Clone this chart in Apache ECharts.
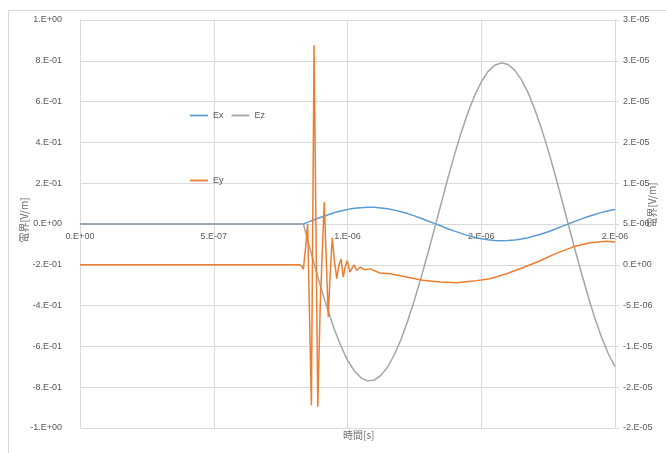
<!DOCTYPE html>
<html>
<head>
<meta charset="utf-8">
<script src="https://cdn.jsdelivr.net/npm/echarts@6/dist/echarts.min.js"></script>
<style>html,body{margin:0;padding:0;background:#fff;}#c{width:666px;height:453px;}</style>
</head>
<body>
<div id="c"></div>
<script>
// time axis for Ex / Ez [s]
const tField = [0, 0.835e-6, 0.850e-6, 0.875e-6, 0.900e-6, 0.925e-6, 0.950e-6, 0.975e-6, 1.000e-6, 1.025e-6, 1.050e-6, 1.075e-6, 1.100e-6, 1.125e-6, 1.150e-6, 1.175e-6, 1.200e-6, 1.225e-6, 1.250e-6, 1.275e-6, 1.300e-6, 1.325e-6, 1.350e-6, 1.375e-6, 1.400e-6, 1.425e-6, 1.450e-6, 1.475e-6, 1.500e-6, 1.525e-6, 1.550e-6, 1.575e-6, 1.600e-6, 1.625e-6, 1.650e-6, 1.675e-6, 1.700e-6, 1.725e-6, 1.750e-6, 1.775e-6, 1.800e-6, 1.825e-6, 1.850e-6, 1.875e-6, 1.900e-6, 1.925e-6, 1.950e-6, 1.975e-6, 2.000e-6];
// Ex [V/m] (left axis)
const exValues = [0, 0, 0.008, 0.021, 0.033, 0.044, 0.055, 0.064, 0.071, 0.077, 0.080, 0.082, 0.082, 0.079, 0.075, 0.068, 0.060, 0.051, 0.040, 0.028, 0.015, 0.003, -0.010, -0.023, -0.035, -0.046, -0.057, -0.065, -0.072, -0.077, -0.081, -0.082, -0.081, -0.078, -0.073, -0.067, -0.058, -0.049, -0.038, -0.026, -0.013, 0.000, 0.013, 0.025, 0.037, 0.047, 0.057, 0.065, 0.071];
// Ez [V/m] (left axis)
const ezValues = [0, 0, -0.073, -0.193, -0.309, -0.416, -0.513, -0.597, -0.667, -0.719, -0.754, -0.769, -0.765, -0.742, -0.701, -0.641, -0.566, -0.476, -0.374, -0.263, -0.146, -0.024, 0.100, 0.223, 0.340, 0.448, 0.545, 0.629, 0.696, 0.747, 0.778, 0.790, 0.782, 0.754, 0.708, 0.644, 0.563, 0.468, 0.362, 0.246, 0.125, 0.000, -0.123, -0.243, -0.357, -0.463, -0.556, -0.636, -0.699];
// Ey (right axis) time [s] and value [V/m]
const eyTime = [0, 0.820e-6, 0.828e-6, 0.835e-6, 0.843e-6, 0.851e-6, 0.865e-6, 0.875e-6, 0.889e-6, 0.898e-6, 0.913e-6, 0.920e-6, 0.928e-6, 0.935e-6, 0.943e-6, 0.951e-6, 0.960e-6, 0.968e-6, 0.976e-6, 0.984e-6, 0.991e-6, 0.999e-6, 1.009e-6, 1.024e-6, 1.034e-6, 1.047e-6, 1.065e-6, 1.084e-6, 1.121e-6, 1.160e-6, 1.221e-6, 1.280e-6, 1.346e-6, 1.408e-6, 1.470e-6, 1.533e-6, 1.595e-6, 1.660e-6, 1.720e-6, 1.780e-6, 1.844e-6, 1.907e-6, 1.969e-6, 2.000e-6];
const eyValues = [0, 0, -0.0125e-5, -0.055e-5, 0.20e-5, 0.50e-5, -1.72e-5, 2.69e-5, -1.74e-5, -0.50e-5, 0.77e-5, 0.13e-5, -0.64e-5, -0.13e-5, 0.33e-5, 0.05e-5, -0.17e-5, 0, 0.07e-5, -0.15e-5, -0.03e-5, 0.05e-5, -0.09e-5, 0, -0.07e-5, -0.03e-5, -0.06e-5, -0.05e-5, -0.10e-5, -0.11e-5, -0.15e-5, -0.19e-5, -0.21e-5, -0.22e-5, -0.20e-5, -0.17e-5, -0.11e-5, -0.03e-5, 0.05e-5, 0.14e-5, 0.22e-5, 0.27e-5, 0.29e-5, 0.28e-5];

const yTitle = '電界[V/m]';
const xTitle = '時間[s]';

function sciFmt(v) {
  if (Math.abs(v) < 1e-30) return '0.E+00';
  const s = v < 0 ? -1 : 1;
  const a = Math.abs(v);
  let e = Math.floor(Math.log10(a) + 1e-9);
  let m = Math.round(a / Math.pow(10, e) * (1 + 1e-9));
  if (m >= 10) { m = 1; e += 1; }
  const es = (e < 0 ? '-' : '+') + String(Math.abs(e)).padStart(2, '0');
  return (s < 0 ? '-' : '') + m + '.E' + es;
}

const gridColor = '#d9d9d9';
const labelStyle = { color: '#595959', fontSize: 9, fontFamily: 'Liberation Sans' };
const titleStyle = { color: '#6f6f6f', fontSize: 10, fontFamily: 'Noto Sans CJK JP' };
const lineIcon = 'path://M0,0H20V2H0Z';

const chart = echarts.init(document.getElementById('c'), null, { renderer: 'canvas' });
chart.setOption({
  animation: false,
  backgroundColor: '#ffffff',
  grid: { left: 80, right: 51, top: 20, bottom: 25, containLabel: false, outerBoundsMode: 'none' },
  graphic: [{
    type: 'rect', shape: { x: 8.5, y: 10.5, width: 700, height: 500 },
    style: { fill: 'none', stroke: '#d9d9d9', lineWidth: 1 }, silent: true, z: -10
  }, {
    type: 'text', left: 343, top: 430, silent: true,
    style: { text: xTitle, fill: titleStyle.color, font: '10px "Noto Sans CJK JP"' }
  }],
  legend: [
    { data: ['Ex', 'Ez'], left: 185, top: 106, icon: lineIcon, itemWidth: 18, itemHeight: 2, itemGap: 8,
      textStyle: labelStyle, selectedMode: false },
    { data: ['Ey'], left: 185, top: 171, icon: lineIcon, itemWidth: 18, itemHeight: 2,
      textStyle: labelStyle, selectedMode: false }
  ],
  xAxis: [{
    type: 'value', min: 0, max: 2e-6, interval: 5e-7, position: 'bottom', offset: -204,
    axisLine: { onZero: false, lineStyle: { color: gridColor } },
    axisTick: { show: false },
    axisLabel: Object.assign({ formatter: sciFmt, margin: 8 }, labelStyle),
    splitLine: { show: true, lineStyle: { color: gridColor } }
  }],
  yAxis: [{
    type: 'value', min: -1, max: 1, interval: 0.2, position: 'left',
    axisLine: { show: true, onZero: false, lineStyle: { color: gridColor } },
    axisTick: { show: false },
    axisLabel: Object.assign({ formatter: sciFmt, margin: 18 }, labelStyle),
    splitLine: { show: true, lineStyle: { color: gridColor } },
    name: yTitle, nameLocation: 'middle', nameGap: 51, nameRotate: 90, nameMoveOverlap: false,
    nameTextStyle: Object.assign({ padding: [0, 0, 0, 8] }, titleStyle)
  }, {
    type: 'value', min: -2e-5, max: 3e-5, interval: 5e-6, position: 'right',
    axisLine: { show: true, onZero: false, lineStyle: { color: gridColor } },
    axisTick: { show: true, length: 4, lineStyle: { color: gridColor } },
    axisLabel: Object.assign({ formatter: sciFmt, margin: 8 }, labelStyle),
    splitLine: { show: false },
    name: yTitle, nameLocation: 'middle', nameGap: 32, nameRotate: 90, nameMoveOverlap: false,
    nameTextStyle: Object.assign({ padding: [0, 0, 0, 38] }, titleStyle)
  }],
  series: [{
    name: 'Ex', type: 'line', xAxisIndex: 0, yAxisIndex: 0, symbol: 'none',
    lineStyle: { color: '#5B9BD5', width: 1.5 }, itemStyle: { color: '#5B9BD5' },
    data: tField.map((t, i) => [t, exValues[i]])
  }, {
    name: 'Ez', type: 'line', xAxisIndex: 0, yAxisIndex: 0, symbol: 'none',
    lineStyle: { color: '#A5A5A5', width: 1.5 }, itemStyle: { color: '#A5A5A5' },
    data: tField.map((t, i) => [t, ezValues[i]])
  }, {
    name: 'Ey', type: 'line', xAxisIndex: 0, yAxisIndex: 1, symbol: 'none',
    lineStyle: { color: '#ED7D31', width: 1.5 }, itemStyle: { color: '#ED7D31' },
    data: eyTime.map((t, i) => [t, eyValues[i]])
  }]
});
</script>
</body>
</html>
